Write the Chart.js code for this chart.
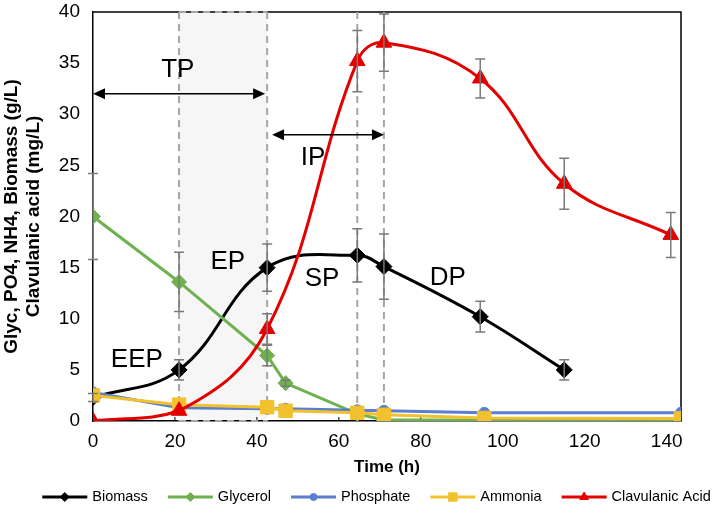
<!DOCTYPE html>
<html><head><meta charset="utf-8">
<script src="https://cdn.jsdelivr.net/npm/chart.js@4.4.1/dist/chart.umd.min.js"></script>
<style>html,body{margin:0;padding:0;background:#fff}#wrap{width:716px;height:508px;position:relative}</style>
</head><body><div id="wrap"><canvas id="c" width="716" height="508"></canvas></div>
<script>
// ---------- data ----------
const biomassTime = [0, 21, 42.5, 64.5, 71, 94.5, 115];
const biomass     = [2.3, 5.0, 15.0, 16.2, 15.1, 10.2, 5.0];
const biomassErr  = [0.4, 1.0, 2.3, 2.6, 3.2, 1.5, 1.0];

const glycerolTime = [0, 21, 42.5, 47, 64.5, 71, 95.5, 143.5];
const glycerol     = [20, 13.6, 6.4, 3.7, 0.7, 0.1, 0.1, 0.05];
const glycerolErr  = [4.2, 2.9, 1.0, 0.3, null, null, null, null];

const phosphateTime = [0, 21, 42.5, 47, 64.5, 71, 95.5, 143.5];
const phosphate     = [2.8, 1.3, 1.2, 1.2, 1.05, 1.0, 0.8, 0.8];

const ammoniaTime = [0, 21, 42.5, 47, 64.5, 71, 95.5, 143.5];
const ammonia     = [2.5, 1.6, 1.35, 1.0, 0.8, 0.6, 0.3, 0.25];

const clavTime = [0, 21, 42.5, 64.5, 71, 94.5, 115, 141];
const clav     = [0, 1.0, 9.0, 35.2, 37.0, 33.5, 23.2, 18.2];
const clavErr  = [null, null, 1.5, 3.0, 2.8, 1.9, 2.5, 2.2];

const xTicks = [0, 20, 40, 60, 80, 100, 120, 140];
const yTicks = [0, 5, 10, 15, 20, 25, 30, 35, 40];

// phase annotations (data coordinates)
const shadeRange = [21, 42.5];
const phaseLines = [21, 42.5, 64.5, 71];
const phaseArrows = [[0, 42, 32], [43.7, 71, 28]];
const phaseLabels = ['TP', 'IP', 'EEP', 'EP', 'SP', 'DP'];
const phaseLabelX = [20.7, 53.7, 10.7, 32.9, 55.9, 86.6];
const phaseLabelY = [34.3, 25.7, 6.0, 15.6, 13.9, 14.0];

// ---------- chart ----------
const FONT = "'Liberation Sans', Arial, sans-serif";
const pts = (t, v) => t.map((x, i) => ({x: x, y: v[i]}));

const datasets = [
  {label:'Biomass', data:pts(biomassTime, biomass), err:biomassErr, borderColor:'#000000', backgroundColor:'#000000',
   borderWidth:3, tension:0.4, pointStyle:'rectRot', pointRadius:8, pointBorderWidth:1, order:5, lr:4.5},
  {label:'Glycerol', data:pts(glycerolTime, glycerol), err:glycerolErr, borderColor:'#6FB04F', backgroundColor:'#6FB04F',
   borderWidth:3, tension:0, pointStyle:'rectRot', pointRadius:7.5, pointBorderWidth:1, order:4, lr:4.5},
  {label:'Phosphate', data:pts(phosphateTime, phosphate), borderColor:'#5A7FD0', backgroundColor:'#5A7FD0',
   borderWidth:3, tension:0, pointStyle:'circle', pointRadius:5.5, pointBorderWidth:1, order:3, lr:3.5},
  {label:'Ammonia', data:pts(ammoniaTime, ammonia), borderColor:'#F2C12E', backgroundColor:'#F2C12E',
   borderWidth:3, tension:0, pointStyle:'rect', pointRadius:9.5, pointBorderWidth:1, order:2, lr:6},
  {label:'Clavulanic Acid', data:pts(clavTime, clav), err:clavErr, borderColor:'#E30000', backgroundColor:'#E30000',
   borderWidth:3, tension:0.4, pointStyle:'triangle', pointRadius:9, pointBorderWidth:1, order:1, lr:5}
];

const deco = {
  id:'deco',
  beforeDatasetsDraw(chart){
    const {ctx, chartArea:a, scales:{x, y}} = chart;
    ctx.save();
    ctx.strokeStyle = '#000'; ctx.lineWidth = 1.5;
    ctx.beginPath(); ctx.moveTo(a.left, a.top); ctx.lineTo(a.right, a.top); ctx.lineTo(a.right, a.bottom); ctx.stroke();
    const x1 = x.getPixelForValue(shadeRange[0]), x2 = x.getPixelForValue(shadeRange[1]);
    ctx.fillStyle = '#f6f6f6';
    ctx.fillRect(x1, a.top + 1, x2 - x1, a.bottom - a.top - 2);
    ctx.strokeStyle = '#000'; ctx.lineWidth = 1;
    xTicks.forEach(v => { const px = x.getPixelForValue(v); ctx.beginPath(); ctx.moveTo(px, a.bottom); ctx.lineTo(px, a.bottom - 4); ctx.stroke(); });
    ctx.strokeStyle = '#a6a6a6'; ctx.lineWidth = 2; ctx.setLineDash([7, 5]);
    phaseLines.forEach(v => { const px = x.getPixelForValue(v); ctx.beginPath(); ctx.moveTo(px, a.top); ctx.lineTo(px, a.bottom); ctx.stroke(); });
    ctx.beginPath(); ctx.moveTo(x1, a.top); ctx.lineTo(x2, a.top); ctx.moveTo(x1, a.bottom); ctx.lineTo(x2, a.bottom); ctx.stroke();
    ctx.restore();
  },
  afterDatasetsDraw(chart){
    const {ctx, scales:{x, y}} = chart;
    ctx.save();
    ctx.strokeStyle = '#7a7a7a'; ctx.lineWidth = 1.5;
    chart.data.datasets.forEach(ds => {
      if (!ds.err) return;
      ds.data.forEach((p, i) => {
        const e = ds.err[i]; if (e == null) return;
        const px = x.getPixelForValue(p.x), pt = y.getPixelForValue(p.y + e), pb = y.getPixelForValue(Math.max(0, p.y - e));
        ctx.beginPath();
        ctx.moveTo(px, pt); ctx.lineTo(px, pb);
        ctx.moveTo(px - 5, pt); ctx.lineTo(px + 5, pt);
        ctx.moveTo(px - 5, pb); ctx.lineTo(px + 5, pb);
        ctx.stroke();
      });
    });
    ctx.strokeStyle = '#000'; ctx.fillStyle = '#000'; ctx.lineWidth = 1.5;
    phaseArrows.forEach(([xa, xb, yv]) => {
      const pa = x.getPixelForValue(xa), pb = x.getPixelForValue(xb), py = y.getPixelForValue(yv);
      const hl = 12, hw = 5.5;
      ctx.beginPath(); ctx.moveTo(pa + hl - 1, py); ctx.lineTo(pb - hl + 1, py); ctx.stroke();
      ctx.beginPath(); ctx.moveTo(pa, py); ctx.lineTo(pa + hl, py - hw); ctx.lineTo(pa + hl, py + hw); ctx.closePath(); ctx.fill();
      ctx.beginPath(); ctx.moveTo(pb, py); ctx.lineTo(pb - hl, py - hw); ctx.lineTo(pb - hl, py + hw); ctx.closePath(); ctx.fill();
    });
    ctx.font = '26px ' + FONT; ctx.textAlign = 'center'; ctx.textBaseline = 'middle'; ctx.fillStyle = '#000';
    phaseLabels.forEach((t, i) => ctx.fillText(t, x.getPixelForValue(phaseLabelX[i]), y.getPixelForValue(phaseLabelY[i])));
    ctx.restore();
  },
  afterDraw(chart){
    const ctx = chart.ctx;
    ctx.save();
    ctx.font = '14.5px ' + FONT; ctx.textBaseline = 'middle'; ctx.textAlign = 'left';
    const lineW = 45, gapT = 5, gapI = 20, ly = 497;
    const items = chart.data.datasets;
    let total = 0;
    items.forEach((d, i) => { total += lineW + gapT + ctx.measureText(d.label).width + (i ? gapI : 0); });
    let cx = 376.5 - total / 2;
    items.forEach(d => {
      ctx.strokeStyle = d.borderColor; ctx.lineWidth = 3;
      ctx.beginPath(); ctx.moveTo(cx, ly); ctx.lineTo(cx + lineW, ly); ctx.stroke();
      ctx.fillStyle = d.backgroundColor; ctx.strokeStyle = d.borderColor; ctx.lineWidth = 1;
      Chart.helpers.drawPoint(ctx, {pointStyle:d.pointStyle, radius:d.lr, rotation:0, borderWidth:1}, cx + lineW / 2, ly);
      ctx.fillStyle = '#000';
      ctx.fillText(d.label, cx + lineW + gapT, ly);
      cx += lineW + gapT + ctx.measureText(d.label).width + gapI;
    });
    ctx.restore();
  }
};

new Chart(document.getElementById('c'), {
  type:'line',
  data:{datasets},
  plugins:[deco],
  options:{
    responsive:false, animation:false, devicePixelRatio:1,
    layout:{padding:{top:12, right:35, left:0, bottom:0}},
    plugins:{legend:{display:false}, tooltip:{enabled:false}},
    scales:{
      x:{type:'linear', min:0, max:143.5,
        afterBuildTicks:s => { s.ticks = xTicks.map(v => ({value:v})); },
        afterFit:s => { s.height = 87; s.paddingLeft = 0; s.paddingRight = 0; },
        grid:{display:false, drawTicks:false},
        border:{display:true, color:'#000', width:1.5},
        ticks:{font:{family:FONT, size:19}, color:'#000', padding:9, maxRotation:0, autoSkip:false},
        title:{display:true, text:'Time (h)', color:'#000', font:{family:FONT, size:17, weight:'bold'}, padding:{top:0, bottom:30}}
      },
      y:{type:'linear', min:0, max:40,
        afterBuildTicks:s => { s.ticks = yTicks.map(v => ({value:v})); },
        afterFit:s => { s.width = 93; s.paddingTop = 0; s.paddingBottom = 0; },
        grid:{display:false, drawTicks:false},
        border:{display:true, color:'#000', width:1.5},
        ticks:{font:{family:FONT, size:19}, color:'#000', padding:13},
        title:{display:true, text:['Glyc, PO4, NH4, Biomass (g/L)', 'Clavulanic acid (mg/L)'], color:'#000',
          font:{family:FONT, size:19, weight:'bold', lineHeight:1.2}, padding:{top:0, bottom:0}}
      }
    }
  }
});
</script>
</body></html>
